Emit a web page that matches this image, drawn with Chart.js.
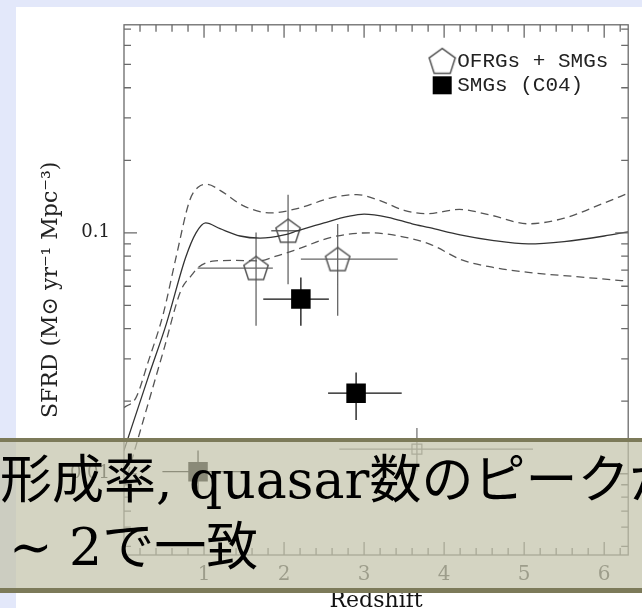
<!DOCTYPE html>
<html>
<head>
<meta charset="utf-8">
<script src="https://cdn.jsdelivr.net/npm/chart.js@4.4.1/dist/chart.umd.min.js"></script>
<style>
  html, body { margin: 0; padding: 0; }
  body { width: 642px; height: 608px; overflow: hidden; background: #e3e8fa; position: relative; }
  #panel { position: absolute; left: 16px; top: 7px; right: 0; bottom: 0; background: #fff; }
  #wrap { position: absolute; left: 0; top: 0; width: 642px; height: 608px; }
  #cap {
    position: absolute; left: 0; top: 438px; width: 642px; height: 146px;
    border-top: 4px solid #7c7a59; border-bottom: 5px solid #7c7a59;
    background: rgba(194, 194, 169, 0.71);
    overflow: hidden; white-space: nowrap;
    font-family: "DejaVu Serif", "Noto Sans CJK JP", serif; font-size: 52px; color: #000;
  }
  #cap div { position: absolute; left: 0; line-height: 52px; }
</style>
</head>
<body>
<div id="panel"></div>
<div id="wrap"><canvas id="sfrd" width="642" height="608"></canvas></div>
<div id="cap">
  <div style="top:12px">形成率, quasar数のピークが</div>
  <div style="top:79px; left:9px">∼ 2で一致</div>
</div>
<script>
// model curve (solid) and its upper / lower envelope (dashed)
const midZ    = [0.00, 0.30, 0.53, 0.77, 0.90, 1.02, 1.20, 1.45, 1.70, 2.00, 2.17, 2.50, 2.80, 3.00, 3.30, 3.60, 3.82, 4.20, 4.60, 5.05, 5.50, 6.00, 6.30];
const midSfrd = [0.0125, 0.025, 0.042, 0.079, 0.100, 0.110, 0.104, 0.097, 0.095, 0.098, 0.102, 0.110, 0.117, 0.1196, 0.116, 0.109, 0.105, 0.098, 0.093, 0.090, 0.092, 0.097, 0.101];

const upZ    = [0.00, 0.15, 0.30, 0.49, 0.65, 0.82, 0.93, 1.04, 1.20, 1.50, 1.84, 2.20, 2.60, 2.91, 3.20, 3.50, 3.78, 4.19, 4.60, 5.05, 5.50, 6.00, 6.30];
const upSfrd = [0.0188, 0.0207, 0.029, 0.046, 0.079, 0.136, 0.155, 0.159, 0.150, 0.129, 0.121, 0.127, 0.140, 0.144, 0.136, 0.124, 0.120, 0.125, 0.118, 0.109, 0.115, 0.133, 0.146];

const loZ    = [0.00, 0.24, 0.50, 0.71, 0.85, 0.92, 1.14, 1.40, 1.68, 1.90, 2.17, 2.60, 3.08, 3.50, 3.82, 4.23, 4.60, 5.05, 5.60, 6.30];
const loSfrd = [0.0088, 0.0166, 0.033, 0.0575, 0.067, 0.0715, 0.0765, 0.0768, 0.0765, 0.080, 0.0856, 0.096, 0.100, 0.096, 0.0898, 0.077, 0.072, 0.0685, 0.066, 0.063];

// OFRGs + SMGs (pentagons)
const pentZ    = [1.65, 2.05, 2.67];
const pentSfrd = [0.0714, 0.102, 0.0778];
const pentZlo  = [0.92, 1.84, 2.21];
const pentZhi  = [1.86, 2.20, 3.42];
const pentSlo  = [0.0411, 0.0612, 0.0453];
const pentShi  = [0.1003, 0.144, 0.1087];

// SMGs (C04) (filled squares)
const smgZ    = [0.925, 2.21, 2.90];
const smgSfrd = [0.0102, 0.0531, 0.0216];
const smgZlo  = [0.48, 1.74, 2.55];
const smgZhi  = [1.49, 2.56, 3.47];
const smgSlo  = [0.0083, 0.0411, 0.0167];
const smgShi  = [0.0125, 0.0653, 0.0263];

// open square
const openZ    = [3.66];
const openSfrd = [0.01265];
const openZlo  = [2.69];
const openZhi  = [5.11];
const openSlo  = [0.0103];
const openShi  = [0.0155];

const legendLabels = ['OFRGs + SMGs', 'SMGs (C04)'];
const xTickVals = [1, 2, 3, 4, 5, 6];
const yTickVals = [0.01, 0.1];
const yTickLabels = ['0.01', '0.1'];
const yMinor = [0.005, 0.006, 0.007, 0.008, 0.009, 0.02, 0.03, 0.04, 0.05, 0.06, 0.07, 0.08, 0.09, 0.2, 0.3, 0.4, 0.5, 0.6, 0.7];

function xy(xs, ys) {
  return xs.map((x, i) => ({x: x, y: ys[i]}));
}

function pentagon(r, color) {
  const k = 1 + Math.cos(Math.PI / 5);
  const c = document.createElement('canvas');
  c.width = Math.ceil(2 * r * Math.sin(2 * Math.PI / 5)) + 3;
  c.height = Math.ceil(r * k) + 3;
  const g = c.getContext('2d');
  const cx = c.width / 2, cy = (c.height - r * k) / 2 + r;
  g.beginPath();
  for (let i = 0; i < 5; i++) {
    const a = -Math.PI / 2 + i * 2 * Math.PI / 5;
    const px = cx + r * Math.cos(a), py = cy + r * Math.sin(a);
    if (i) g.lineTo(px, py); else g.moveTo(px, py);
  }
  g.closePath();
  g.strokeStyle = color;
  g.lineWidth = 1.5;
  g.stroke();
  return c;
}
const pent = pentagon(12.8, '#555');
const bigPent = pentagon(13.7, '#555');

const errorSets = [
  {z: pentZ, s: pentSfrd, zlo: pentZlo, zhi: pentZhi, slo: pentSlo, shi: pentShi, color: '#666'},
  {z: smgZ, s: smgSfrd, zlo: smgZlo, zhi: smgZhi, slo: smgSlo, shi: smgShi, color: '#111'},
  {z: openZ, s: openSfrd, zlo: openZlo, zhi: openZhi, slo: openSlo, shi: openShi, color: '#777'}
];

const errorBars = {
  id: 'errorBars',
  beforeDatasetsDraw(chart) {
    const {ctx, scales: {x, y}} = chart;
    ctx.save();
    ctx.lineWidth = 1.3;
    errorSets.forEach(e => {
      ctx.strokeStyle = e.color;
      ctx.beginPath();
      e.z.forEach((z, i) => {
        const px = x.getPixelForValue(z), py = y.getPixelForValue(e.s[i]);
        ctx.moveTo(x.getPixelForValue(e.zlo[i]), py);
        ctx.lineTo(x.getPixelForValue(e.zhi[i]), py);
        ctx.moveTo(px, y.getPixelForValue(e.slo[i]));
        ctx.lineTo(px, y.getPixelForValue(e.shi[i]));
      });
      ctx.stroke();
    });
    ctx.restore();
  }
};

const frameTicks = {
  id: 'frameTicks',
  afterDatasetsDraw(chart) {
    const {ctx, chartArea: a, scales: {x, y}} = chart;
    ctx.save();
    ctx.strokeStyle = '#6a6a6a';
    ctx.lineWidth = 1.3;
    ctx.strokeRect(a.left, a.top, a.right - a.left, a.bottom - a.top);
    ctx.beginPath();
    for (let i = 1; i <= 31; i++) {
      const v = i * 0.2;
      const len = i % 5 === 0 ? 13 : 7;
      const px = x.getPixelForValue(v);
      ctx.moveTo(px, a.bottom); ctx.lineTo(px, a.bottom - len);
      ctx.moveTo(px, a.top); ctx.lineTo(px, a.top + len);
    }
    yTickVals.concat(yMinor).forEach(v => {
      const len = yTickVals.includes(v) ? 13 : 7;
      const py = y.getPixelForValue(v);
      ctx.moveTo(a.left, py); ctx.lineTo(a.left + len, py);
      ctx.moveTo(a.right, py); ctx.lineTo(a.right - len, py);
    });
    ctx.stroke();
    ctx.restore();
  }
};

const cornerLegend = {
  id: 'cornerLegend',
  afterDraw(chart) {
    const {ctx, chartArea: a} = chart;
    const mx = a.right - 186;
    ctx.save();
    ctx.drawImage(bigPent, mx - bigPent.width / 2, a.top + 36 - bigPent.height / 2);
    ctx.fillStyle = '#000';
    ctx.fillRect(mx - 9.5, a.top + 60.5 - 9, 19, 18);
    ctx.font = '21px "Liberation Mono"';
    ctx.fillStyle = '#222';
    ctx.textBaseline = 'middle';
    ctx.fillText(legendLabels[0], a.right - 171, a.top + 37);
    ctx.fillText(legendLabels[1], a.right - 171, a.top + 61);
    ctx.restore();
  }
};

Chart.defaults.font.family = '"DejaVu Serif", serif';

new Chart(document.getElementById('sfrd'), {
  type: 'scatter',
  data: {
    datasets: [
      {type: 'line', data: xy(midZ, midSfrd), borderColor: '#333', borderWidth: 1.3, pointRadius: 0, cubicInterpolationMode: 'monotone', fill: false},
      {type: 'line', data: xy(upZ, upSfrd), borderColor: '#555', borderWidth: 1.3, borderDash: [8, 5], pointRadius: 0, cubicInterpolationMode: 'monotone', fill: false},
      {type: 'line', data: xy(loZ, loSfrd), borderColor: '#555', borderWidth: 1.3, borderDash: [8, 5], pointRadius: 0, cubicInterpolationMode: 'monotone', fill: false},
      {label: legendLabels[0], data: xy(pentZ, pentSfrd), pointStyle: pent, pointRadius: 12},
      {label: legendLabels[1], data: xy(smgZ, smgSfrd), pointStyle: 'rect', pointRadius: 13.8, backgroundColor: '#000', borderColor: '#000', borderWidth: 0},
      {data: xy(openZ, openSfrd), pointStyle: 'rect', pointRadius: 7, backgroundColor: 'rgba(0,0,0,0)', borderColor: '#777', borderWidth: 1.2}
    ]
  },
  options: {
    animation: false,
    responsive: false,
    layout: {padding: {top: 24, right: 7, left: 0, bottom: 0}},
    plugins: {
      legend: {display: false},
      tooltip: {enabled: false}
    },
    scales: {
      x: {
        type: 'linear',
        min: 0,
        max: 6.3,
        afterFit: s => { s.height = 53; },
        afterBuildTicks: s => { s.ticks = xTickVals.map(v => ({value: v})); },
        grid: {display: false, drawTicks: false},
        border: {display: false},
        ticks: {font: {size: 20}, color: '#444', padding: 8, maxRotation: 0, autoSkip: false},
        title: {display: true, text: 'Redshift', font: {size: 22, lineHeight: 0.6}, padding: 0, color: '#111'}
      },
      y: {
        type: 'logarithmic',
        min: 0.0046,
        max: 0.73,
        afterFit: s => { s.width = 124; },
        afterBuildTicks: s => { s.ticks = yTickVals.map(v => ({value: v})); },
        grid: {display: false, drawTicks: false},
        border: {display: false},
        ticks: {callback: (v, i) => yTickLabels[i], font: {size: 18}, color: '#222', padding: 14},
        title: {display: true, text: 'SFRD (M⊙ yr⁻¹ Mpc⁻³)', font: {size: 22}, padding: {top: 38, bottom: 0}, color: '#222'}
      }
    }
  },
  plugins: [errorBars, frameTicks, cornerLegend]
});
</script>
</body>
</html>
